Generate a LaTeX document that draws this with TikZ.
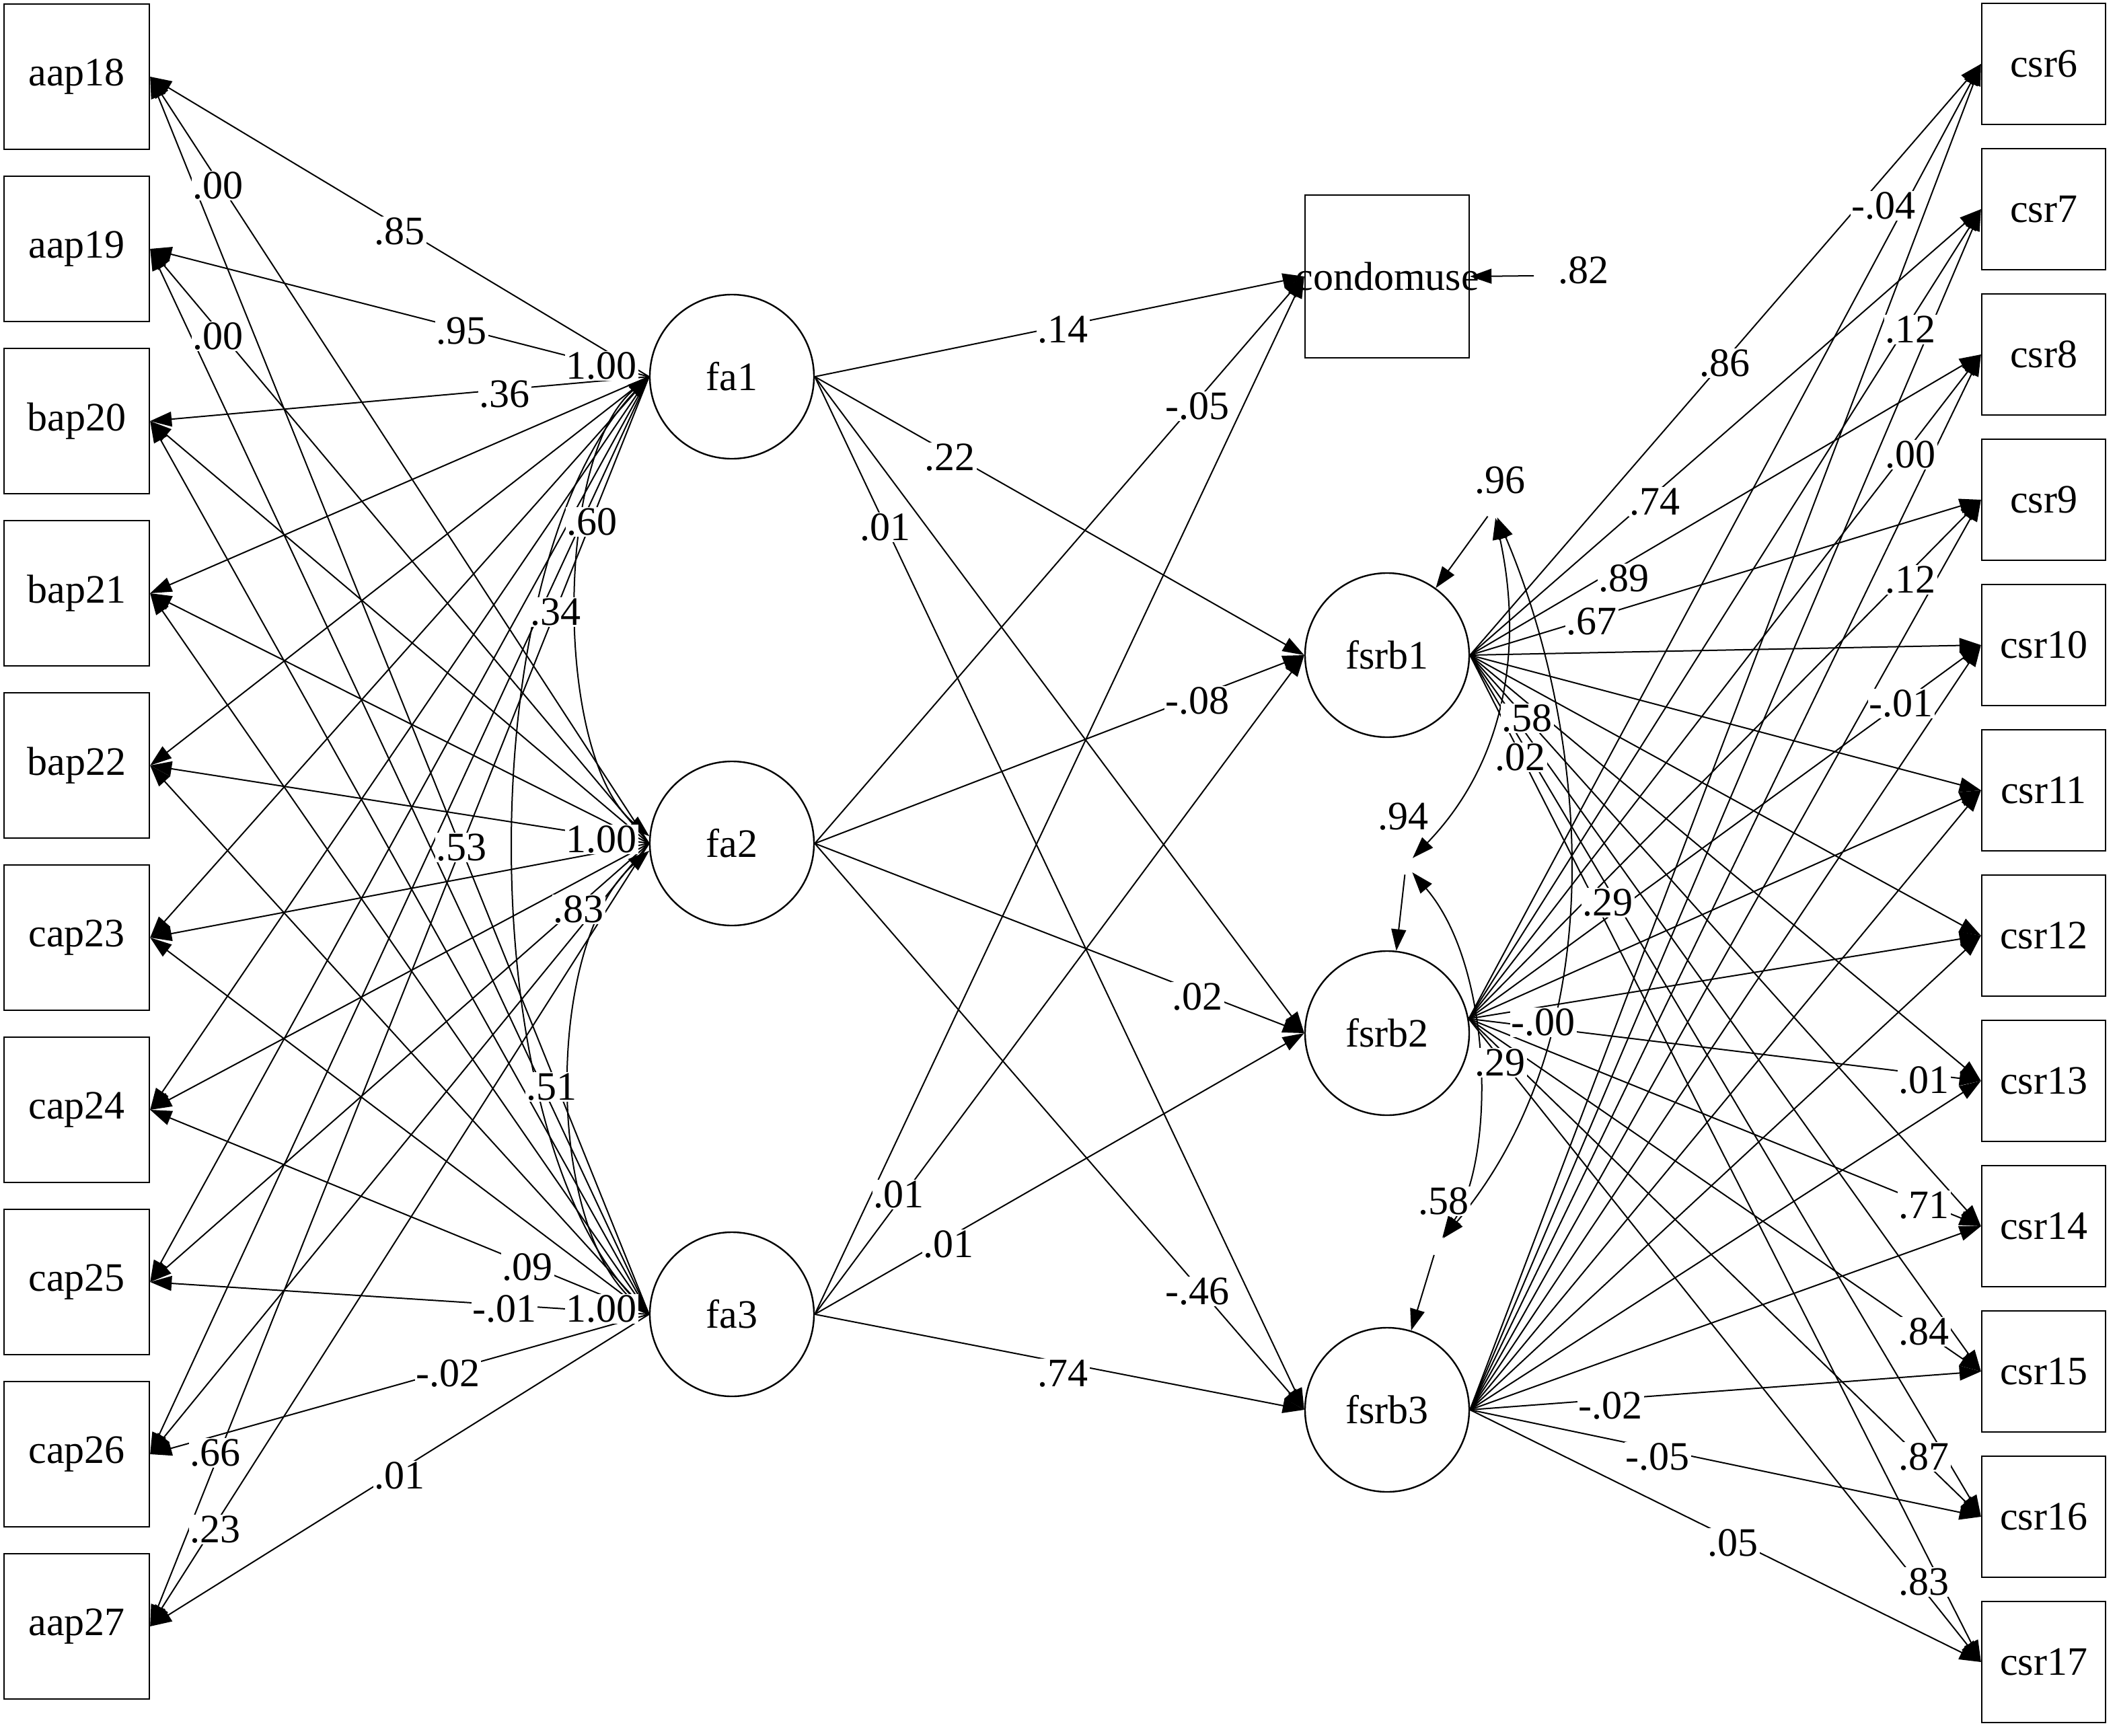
\documentclass[tikz,border=0pt]{standalone}
\usepackage{fontspec}
\setmainfont{Liberation Serif}
\usetikzlibrary{arrows.meta}
\begin{document}
\begin{tikzpicture}[x=1pt,y=-1pt,
  every node/.style={font=\fontsize{30}{32}\selectfont},
  obs/.style={draw, line width=1.2pt, minimum width=108pt, minimum height=108pt, inner sep=0pt},
  obsr/.style={draw, line width=1.2pt, minimum width=92pt, minimum height=90pt, inner sep=0pt},
  lat/.style={draw, circle, line width=1.2pt, minimum size=122pt, inner sep=0pt},
  err/.style={circle, inner sep=0pt, minimum size=14pt},
  edge/.style={line width=1pt, -{Triangle[length=16pt,width=11pt]}},
  cov/.style={line width=1pt, {Triangle[length=16pt,width=11pt]}-{Triangle[length=16pt,width=11pt]}},
  lab/.style={fill=white, inner sep=1pt}
]
\fill[white] (0,0) rectangle (1575,1290.5);
\useasboundingbox (0,0) rectangle (1575,1290.5);

% observed indicators, left
\foreach \n [count=\i from 0] in {aap18,aap19,bap20,bap21,bap22,cap23,cap24,cap25,cap26,aap27}
  \node[obs] (\n) at (57,57+128*\i) {\n};
% observed indicators, right
\foreach \n [count=\i from 0] in {csr6,csr7,csr8,csr9,csr10,csr11,csr12,csr13,csr14,csr15,csr16,csr17}
  \node[obsr] (\n) at (1519,47.5+108*\i) {\n};

% latent variables
\node[lat] (fa1) at (544,280) {fa1};
\node[lat] (fa2) at (544,627) {fa2};
\node[lat] (fa3) at (544,977) {fa3};
\node[lat] (fsrb1) at (1031,487) {fsrb1};
\node[lat] (fsrb2) at (1031,768) {fsrb2};
\node[lat] (fsrb3) at (1031,1048) {fsrb3};
\node[draw, line width=1.2pt, minimum width=122pt, minimum height=121pt, inner sep=0pt] (cu) at (1031,205.5) {\makebox[0pt]{condomuse}};

% error terms (invisible points)
\node[err] (e1) at (1110,378) {};
\node[err] (e2) at (1045,643) {};
\node[err] (e3) at (1068,926) {};
\coordinate (ecu) at (1140,205);

% loadings, left
\foreach \f in {fa1,fa2,fa3}
  \foreach \n in {aap18,aap19,bap20,bap21,bap22,cap23,cap24,cap25,cap26,aap27}
    \draw[edge] (\f.west) -- (\n.east);
% loadings, right
\foreach \f/\a in {fsrb1/0,fsrb2/10,fsrb3/0}
  \foreach \n in {csr6,csr7,csr8,csr9,csr10,csr11,csr12,csr13,csr14,csr15,csr16,csr17}
    \draw[edge] (\f.\a) -- (\n.west);
% structural paths
\foreach \f in {fa1,fa2,fa3}
  \foreach \t in {cu,fsrb1,fsrb2,fsrb3}
    \draw[edge] (\f.east) -- (\t.west);

% residuals
\draw[edge] (e1) -- (fsrb1);
\draw[edge] (e2) -- (fsrb2);
\draw[edge] (e3) -- (fsrb3);
\draw[edge] (ecu) -- (cu.east);

% covariances
\draw[cov] (fa1.west) .. controls (412,340) and (412,562) .. (fa2.175);
\draw[cov] (fa1.west) .. controls (349.5,420) and (349.5,838) .. (fa3.west);
\draw[cov] (fa2.185) .. controls (405,700) and (405,910) .. (fa3.west);
\draw[cov] (e1) .. controls (1130,470) and (1125,560) .. (e2);
\draw[cov] (e1) .. controls (1175,530) and (1207,760) .. (e3);
\draw[cov] (e2) .. controls (1111,720) and (1111,863) .. (e3);

% labels
\foreach \t/\x/\y [count=\i] in {
  .00/162/138, .85/297/172, .00/162/250, .95/343/246, 1.00/447/272, .36/375/293,
  .60/440/388, .34/413/455, .53/343/630, 1.00/447/624, .83/430/676, .51/410/808,
  .09/392/942, -.01/375/973, 1.00/447/973, -.02/333/1021, .66/160/1080, .01/297/1097,
  .23/160/1137, .14/790/245, .22/706/340, .01/658/392, -.05/890/302, -.08/890/521,
  .02/890/741, -.46/890/960, .74/790/1021, .01/705/925, .01/668/888, .82/1177/201,
  .96/1115/357, .86/1282/270, .74/1230/373, -.04/1400/153, .12/1420/245, .00/1420/338,
  .12/1420/431, -.01/1413/523, .89/1207/430, .67/1183/462, .58/1135/534, .02/1130/563,
  .94/1043/607, .29/1195/671, -.00/1147/760, .29/1115/790, .01/1430/803, .71/1430/896,
  .58/1073/893, .84/1430/990, -.02/1197/1045, -.05/1232/1083, .87/1430/1083,
  .05/1288/1147, .83/1430/1176}
  \node[lab] (L\i) at (\x,\y) {\t};
\end{tikzpicture}
\end{document}
